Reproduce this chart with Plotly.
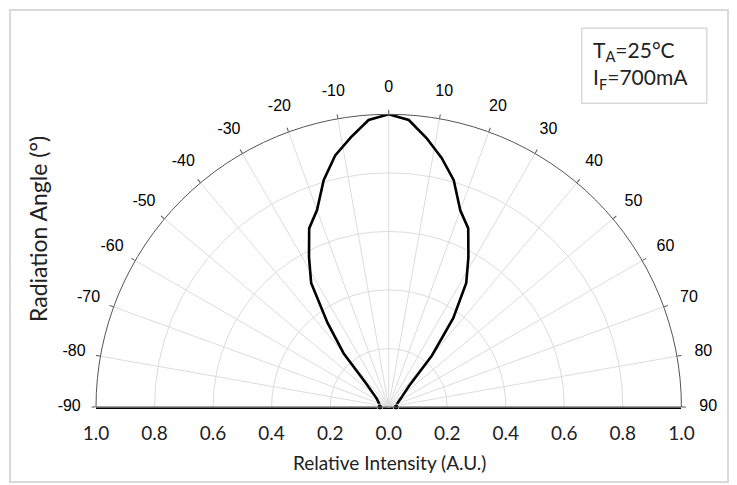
import plotly.graph_objects as go

# Radiation pattern (angle in degrees, relative intensity)
angles = [-90, -70, -55, -44, -40, -36, -32, -28, -24, -20, -16, -12, -8, -4, 0,
          4, 8, 12, 16, 20, 24, 28, 32, 36, 40, 44, 55, 70, 90]
intensity = [0.03, 0.035, 0.05, 0.11, 0.24, 0.356, 0.50, 0.58, 0.668, 0.716, 0.806, 0.879, 0.93, 0.983, 1.0,
             0.983, 0.928, 0.87, 0.806, 0.715, 0.668, 0.58, 0.50, 0.375, 0.23, 0.10, 0.05, 0.03, 0.025]

angle_ticks = list(range(-90, 91, 10))
angle_labels = [str(a) for a in angle_ticks]
intensity_ticks = [-1.0, -0.8, -0.6, -0.4, -0.2, 0.0, 0.2, 0.4, 0.6, 0.8, 1.0]
intensity_labels = ["%.1f" % abs(v) for v in intensity_ticks]
radial_grid = [0.2, 0.4, 0.6, 0.8, 1.0]

W, H = 737, 485
CX, CY, RAD = 388.7, 407.0, 292.7   # pixel geometry of the half-disc
LAB_RAD = 319.5                      # radius of the angle-label ring


def fx(x):
    return x / W


def fy(y):
    return (H - y) / H


label_font = "Lato, 'Open Sans', sans-serif"

marker_sizes = [6 if i in (0, len(angles) - 1) else 0 for i in range(len(angles))]

fig = go.Figure()
fig.add_trace(go.Scatterpolar(
    r=intensity, theta=angles, mode="lines+markers",
    line=dict(color="black", width=2.6),
    marker=dict(color="black", size=marker_sizes),
    showlegend=False, hoverinfo="skip", subplot="polar",
))
# angle tick labels, centred on their spokes on a slightly larger ring
fig.add_trace(go.Scatterpolar(
    r=[1] * len(angle_ticks), theta=angle_ticks, text=angle_labels,
    mode="text", textposition="middle center", cliponaxis=False,
    textfont=dict(family="Liberation Sans, Arial, sans-serif", size=16, color="black"),
    showlegend=False, hoverinfo="skip", subplot="polar2",
))
# invisible carrier for the cartesian intensity axis
fig.add_trace(go.Scatter(
    x=intensity_ticks, y=[0] * len(intensity_ticks), mode="markers",
    marker=dict(opacity=0), showlegend=False, hoverinfo="skip",
))

main_dom = dict(x=[fx(CX - RAD), fx(CX + RAD)], y=[fy(CY), fy(CY - RAD)])
lab_dom = dict(x=[fx(CX - LAB_RAD), fx(CX + LAB_RAD)], y=[fy(CY), fy(CY - LAB_RAD)])

fig.update_layout(
    width=W, height=H,
    margin=dict(l=0, r=0, t=0, b=0, pad=0, autoexpand=False),
    paper_bgcolor="white", plot_bgcolor="rgba(0,0,0,0)",
    polar=dict(
        domain=main_dom,
        sector=[0, 180],
        bgcolor="rgba(0,0,0,0)",
        angularaxis=dict(
            rotation=90, direction="clockwise",
            tickmode="array", tickvals=angle_ticks, ticktext=angle_labels,
            showline=True, linecolor="#555555", linewidth=1,
            ticks="outside", ticklen=4, tickcolor="#555555",
            showticklabels=False,
            showgrid=True, gridcolor="#dcdcdc", gridwidth=1,
        ),
        radialaxis=dict(
            range=[0, 1], tickmode="array", tickvals=radial_grid,
            showticklabels=False, ticks="", showline=False,
            showgrid=True, gridcolor="#dcdcdc", gridwidth=1,
        ),
    ),
    polar2=dict(
        domain=lab_dom,
        sector=[0, 180],
        bgcolor="rgba(0,0,0,0)",
        angularaxis=dict(rotation=90, direction="clockwise", visible=False,
                         showgrid=False, showline=False),
        radialaxis=dict(range=[0, 1], visible=False, showgrid=False),
    ),
    xaxis=dict(
        domain=main_dom["x"], range=[-1, 1], anchor="y", automargin=False,
        tickmode="array", tickvals=intensity_ticks, ticktext=intensity_labels,
        showline=True, linecolor="black", linewidth=2,
        showgrid=False, zeroline=False, ticks="", ticklabelstandoff=8,
        tickfont=dict(family=label_font, size=19, color="#222222"),
        fixedrange=True,
    ),
    yaxis=dict(domain=main_dom["y"], range=[0, 1], visible=False, fixedrange=True,
               automargin=False),
    shapes=[
        dict(type="rect", xref="paper", yref="paper",
             x0=fx(10), x1=fx(728), y0=fy(482), y1=fy(10),
             line=dict(color="#d9d9d9", width=2), layer="below"),
        dict(type="rect", xref="paper", yref="paper",
             x0=fx(581.7), x1=fx(706.7), y0=fy(103.3), y1=fy(28.3),
             line=dict(color="#d9d9d9", width=1.5), fillcolor="white"),
    ],
    annotations=[
        dict(text="Relative Intensity (A.U.)", xref="paper", yref="paper",
             x=fx(389), y=fy(462), xanchor="center", yanchor="middle", showarrow=False,
             font=dict(family=label_font, size=19, color="#222222")),
        dict(text="Radiation Angle (°)", xref="paper", yref="paper",
             x=fx(38), y=fy(229), xanchor="center", yanchor="middle",
             showarrow=False, textangle=-90,
             font=dict(family=label_font, size=23, color="#222222")),
        dict(text="T<sub>A</sub>=25°C<br>I<sub>F</sub>=700mA", xref="paper", yref="paper",
             x=fx(591), y=fy(65), xanchor="left", yanchor="middle", align="left",
             showarrow=False, font=dict(family=label_font, size=21, color="#222222")),
    ],
)

fig.write_html("out.html", config={"displayModeBar": False},
               post_script="document.body.style.margin='0';document.body.style.overflow='hidden';")
